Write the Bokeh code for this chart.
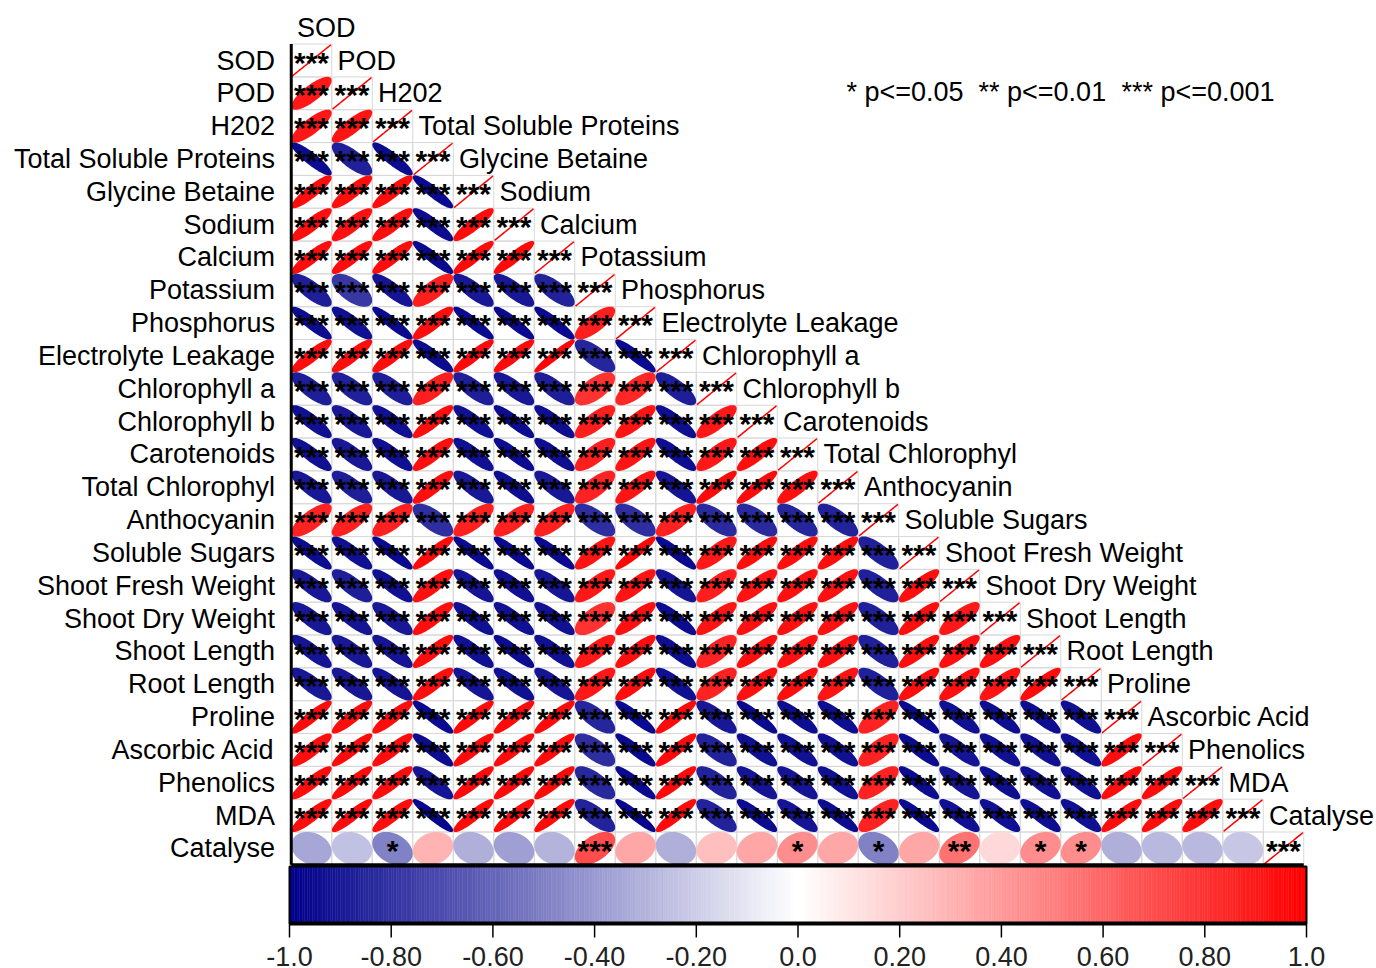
import numpy as np
from bokeh.plotting import figure
from bokeh.models import Range1d, ColumnDataSource, LinearColorMapper
from bokeh.transform import transform
from bokeh.core.properties import value
from bokeh.embed import file_html
from bokeh.resources import INLINE

# ---------------- data ----------------
variables = ["SOD", "POD", "H202", "Total Soluble Proteins", "Glycine Betaine", "Sodium",
             "Calcium", "Potassium", "Phosphorus", "Electrolyte Leakage", "Chlorophyll a",
             "Chlorophyll b", "Carotenoids", "Total Chlorophyl", "Anthocyanin", "Soluble Sugars",
             "Shoot Fresh Weight", "Shoot Dry Weight", "Shoot Length", "Root Length", "Proline",
             "Ascorbic Acid", "Phenolics", "MDA", "Catalyse"]

# lower triangle, row by row (correlation with the preceding variables)
corr_POD = [0.90]
corr_H202 = [0.91, 0.92]
corr_TSP = [-0.95, -0.87, -0.95]
corr_GB = [0.95, 0.94, 0.95, -0.96]
corr_Na = [0.94, 0.93, 0.94, -0.95, 0.95]
corr_Ca = [0.95, 0.95, 0.95, -0.96, 0.96, 0.96]
corr_K = [-0.88, -0.78, -0.92, 0.88, -0.90, -0.90, -0.86]
corr_P = [-0.95, -0.93, -0.96, 0.94, -0.96, -0.96, -0.96, 0.88]
corr_EL = [0.95, 0.95, 0.95, -0.95, 0.96, 0.96, 0.98, -0.85, -0.96]
corr_Chla = [-0.88, -0.87, -0.88, 0.88, -0.88, -0.90, -0.88, 0.80, 0.85, -0.88]
corr_Chlb = [-0.93, -0.90, -0.93, 0.95, -0.93, -0.95, -0.94, 0.88, 0.92, -0.94, 0.90]
corr_Car = [-0.93, -0.90, -0.93, 0.94, -0.93, -0.95, -0.94, 0.88, 0.92, -0.94, 0.90, 0.94]
corr_TChl = [-0.90, -0.88, -0.90, 0.94, -0.90, -0.94, -0.90, 0.86, 0.92, -0.92, 0.96, 0.96, 0.93]
corr_Anth = [0.86, 0.87, 0.87, -0.82, 0.87, 0.87, 0.87, -0.82, -0.82, 0.87, -0.83, -0.83, -0.85, -0.86]
corr_SS = [-0.95, -0.93, -0.96, 0.96, -0.96, -0.96, -0.96, 0.92, 0.97, -0.96, 0.90, 0.94, 0.94, 0.94,
           -0.87]
corr_SFW = [-0.90, -0.88, -0.93, 0.93, -0.92, -0.93, -0.91, 0.90, 0.92, -0.92, 0.88, 0.92, 0.93, 0.93,
            -0.87, 0.94]
corr_SDW = [-0.90, -0.92, -0.90, 0.94, -0.93, -0.93, -0.93, 0.80, 0.93, -0.95, 0.92, 0.93, 0.93, 0.93,
            -0.87, 0.94, 0.90]
corr_SL = [-0.92, -0.90, -0.92, 0.95, -0.93, -0.95, -0.93, 0.90, 0.94, -0.94, 0.86, 0.94, 0.93, 0.93,
           -0.87, 0.94, 0.93, 0.93]
corr_RL = [-0.90, -0.90, -0.92, 0.94, -0.92, -0.93, -0.92, 0.90, 0.94, -0.93, 0.86, 0.93, 0.94, 0.92,
           -0.87, 0.94, 0.93, 0.92, 0.95]
corr_Pro = [0.96, 0.95, 0.95, -0.96, 0.96, 0.96, 0.96, -0.85, -0.96, 0.96, -0.90, -0.96, -0.94, -0.94,
            0.86, -0.96, -0.93, -0.94, -0.94, -0.93]
corr_AsA = [0.94, 0.96, 0.95, -0.95, 0.96, 0.96, 0.96, -0.82, -0.96, 0.96, -0.86, -0.93, -0.93, -0.93,
            0.86, -0.95, -0.92, -0.93, -0.93, -0.93, 0.95]
corr_Phen = [0.95, 0.96, 0.95, -0.92, 0.96, 0.96, 0.96, -0.84, -0.96, 0.96, -0.86, -0.92, -0.92, -0.93,
             0.86, -0.95, -0.92, -0.94, -0.93, -0.93, 0.95, 0.95]
corr_MDA = [0.95, 0.96, 0.95, -0.97, 0.96, 0.96, 0.96, -0.86, -0.97, 0.96, -0.86, -0.95, -0.92, -0.95,
            0.86, -0.96, -0.93, -0.93, -0.94, -0.93, 0.95, 0.95, 0.94]
corr_Cat = [-0.35, -0.25, -0.50, 0.30, -0.32, -0.38, -0.30, 0.70, 0.35, -0.32, 0.25, 0.35, 0.45, 0.35,
            -0.50, 0.35, 0.55, 0.15, 0.45, 0.45, -0.32, -0.28, -0.28, -0.22]

corr_lower = [corr_POD, corr_H202, corr_TSP, corr_GB, corr_Na, corr_Ca, corr_K, corr_P, corr_EL,
              corr_Chla, corr_Chlb, corr_Car, corr_TChl, corr_Anth, corr_SS, corr_SFW, corr_SDW,
              corr_SL, corr_RL, corr_Pro, corr_AsA, corr_Phen, corr_MDA, corr_Cat]

sig_default = "***"
sig_Cat = ["", "", "*", "", "", "", "", "***", "", "", "", "", "*", "", "*", "", "**", "", "*", "*",
           "", "", "", ""]

legend_texts = ["* p<=0.05", "** p<=0.01", "*** p<=0.001"]
cbar_ticks = [-1.0, -0.8, -0.6, -0.4, -0.2, 0.0, 0.2, 0.4, 0.6, 0.8, 1.0]
cbar_tick_labels = ["-1.0", "-0.80", "-0.60", "-0.40", "-0.20", "0.0", "0.20", "0.40", "0.60",
                    "0.80", "1.0"]

# ---------------- layout constants ----------------
W, H = 1376, 968
CW, RH = 40.5, 32.83       # cell size in px
X0, Y0 = 311.0, 60.0       # pixel centre of cell (0, 0)
CB_L, CB_R = 289.0, 1306.0  # colour bar pixel extent
FONT = value("Liberation Sans")

n = len(variables)

# palette darkblue -> white -> red
def ramp(c0, c1, m):
    t = np.linspace(0, 1, m)[:, None]
    return np.array(c0)[None, :] * (1 - t) + np.array(c1)[None, :] * t

cols = np.vstack([ramp((0, 0, 139), (255, 255, 255), 128), ramp((255, 255, 255), (255, 0, 0), 128)])
palette = ["#%02x%02x%02x" % tuple(int(round(v)) for v in c) for c in cols]
mapper = LinearColorMapper(palette=palette, low=-1, high=1)

# ---------------- cells ----------------
ci, cj, cr, cs = [], [], [], []
for i in range(n):
    for j in range(i + 1):
        r = 1.0 if i == j else corr_lower[i - 1][j]
        if i == j:
            s = sig_default
        elif i == n - 1:
            s = sig_Cat[j]
        else:
            s = sig_default
        ci.append(i); cj.append(j); cr.append(r); cs.append(s)

EXT = 0.48   # max half-extent of an ellipse inside its cell
k = np.linspace(0, 2 * np.pi, 72)
exs, eys = [], []
for i, j, r in zip(ci, cj, cr):
    sg = 1.0 if r >= 0 else -1.0
    ratio = np.sqrt(max(0.0, 1 - abs(r)))
    A = EXT / np.sqrt(1 + ratio ** 2)
    B = A * ratio
    u = A * np.cos(k) + B * np.sin(k)
    v = sg * (A * np.cos(k) - B * np.sin(k))
    exs.append(list(j + u))
    eys.append(list(i - v))

cells = ColumnDataSource(dict(i=ci, j=cj, r=cr, star=cs, xs=exs, ys=eys,
                              sy=[i + 0.05 for i in ci]))

p = figure(width=W, height=H, output_backend="svg", toolbar_location=None,
           x_range=Range1d(-X0 / CW, (W - X0) / CW),
           y_range=Range1d((H - Y0) / RH, -Y0 / RH),
           x_axis_location=None, y_axis_location=None, min_border=0)
p.grid.visible = False
p.outline_line_color = None
p.background_fill_color = "white"
px2cb = 2.0 / (CB_R - CB_L)
p.extra_x_ranges = {"cb": Range1d(-1 - CB_L * px2cb, 1 + (W - CB_R) * px2cb)}

p.rect(x="j", y="i", width=1, height=1, source=cells, fill_color=None,
       line_color="#d8d8d8", line_width=1)
p.patches("xs", "ys", source=cells, fill_color=transform("r", mapper),
          line_color=transform("r", mapper), line_width=1.5)
p.text(x="j", y="sy", text="star", source=cells, text_align="center",
       text_baseline="alphabetic", text_font=FONT, text_font_size="30px",
       text_font_style="bold", text_color="black")

# frame lines
p.line(x=[-0.5, -0.5], y=[-0.5, n - 0.5], line_color="black", line_width=3)
p.line(x=[-0.5, n - 0.5], y=[n - 0.5, n - 0.5], line_color="black", line_width=3)

# row labels
p.text(x=[-0.9] * n, y=list(range(n)), text=variables, text_align="right",
       text_baseline="middle", text_font=FONT, text_font_size="27px", text_color="black")
# column labels (next to the diagonal)
p.text(x=[j - 0.5 + 0.14 for j in range(n)], y=[j - 1 for j in range(n)], text=variables,
       text_align="left", text_baseline="middle", text_font=FONT, text_font_size="27px",
       text_color="black")

# significance legend
p.text(x=[13.21, 16.47, 20.0], y=[0.97] * 3, text=legend_texts, text_align="left",
       text_baseline="middle", text_font=FONT, text_font_size="27px", text_color="black")

# colour bar
bar_top = (866 - Y0) / RH
bar_bot = (923 - Y0) / RH
edges = np.linspace(-1, 1, 401)
grad = ColumnDataSource(dict(l=edges[:-1], rr=edges[1:], v=(edges[:-1] + edges[1:]) / 2))
p.quad(left="l", right="rr", top=bar_top, bottom=bar_bot, source=grad,
       fill_color=transform("v", mapper), line_color=transform("v", mapper), line_width=0.5,
       x_range_name="cb")
p.quad(left=-1, right=1, top=bar_top, bottom=bar_bot, fill_color=None, line_color="black",
       line_width=2, x_range_name="cb")
p.line(x=[-1, 1], y=[bar_bot, bar_bot], line_color="black", line_width=4, x_range_name="cb")
p.segment(x0=cbar_ticks, x1=cbar_ticks, y0=[bar_bot] * len(cbar_ticks),
          y1=[(937 - Y0) / RH] * len(cbar_ticks), line_color="black", line_width=1.5,
          x_range_name="cb")
p.text(x=cbar_ticks, y=[(956 - Y0) / RH] * len(cbar_ticks), text=cbar_tick_labels,
       text_align="center", text_baseline="middle",
       text_font=value("Liberation Sans Narrow, Liberation Sans"), text_font_size="27px",
       text_color="#222222", x_range_name="cb")

open("out.html", "w").write(file_html(p, INLINE))
